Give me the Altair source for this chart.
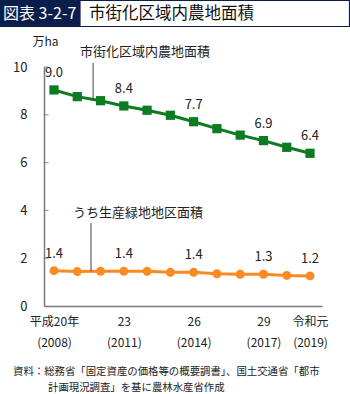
import altair as alt
import pandas as pd

years = list(range(2008, 2020))
urban_farmland = [9.04, 8.76, 8.59, 8.37, 8.19, 7.98, 7.71, 7.42, 7.15, 6.92, 6.64, 6.39]
green_farmland = [1.48, 1.44, 1.45, 1.45, 1.45, 1.41, 1.41, 1.35, 1.33, 1.33, 1.28, 1.26]
series_names = ["市街化区域内農地面積", "うち生産緑地地区面積"]

label_years = [2008, 2011, 2014, 2017, 2019]
urban_labels = ["9.0", "8.4", "7.7", "6.9", "6.4"]
green_labels = ["1.4", "1.4", "1.4", "1.3", "1.2"]

tick_years = [2008, 2011, 2014, 2017, 2019]
tick_line1 = ["平成20年", "23", "26", "29", "令和元"]
tick_line2 = ["(2008)", "(2011)", "(2014)", "(2017)", "(2019)"]
y_ticks = [0, 2, 4, 6, 8, 10]

title_tag = "図表 3-2-7"
title_text = "市街化区域内農地面積"
note_line1 = "資料：総務省「固定資産の価格等の概要調書」、国土交通省「都市"
note_line2 = "計画現況調査」を基に農林水産省作成"
y_unit = "万ha"

FONT = "Noto Sans CJK JP"
GREEN = "#0e7a22"
ORANGE = "#fa8a22"
AXIS_GRAY = "#7a7a7a"

df = pd.DataFrame({
    "year": years * 2,
    "value": urban_farmland + green_farmland,
    "series": [series_names[0]] * len(years) + [series_names[1]] * len(years),
})
lab_df = pd.DataFrame({
    "year": label_years * 2,
    "value": [urban_farmland[years.index(y)] for y in label_years]
    + [green_farmland[years.index(y)] for y in label_years],
    "text": urban_labels + green_labels,
    "series": [series_names[0]] * 5 + [series_names[1]] * 5,
    "dx": [4, 0, 0, 0, 0, 3, 0, 0, 0, 0],
})

expr = ""
for y, a, b in zip(tick_years, tick_line1, tick_line2):
    expr += f"datum.value == {y} ? ['{a}', '{b}'] : "
expr += "''"

x_scale = alt.Scale(domain=[2007.57, 2019.515], nice=False, zero=False)
y_scale = alt.Scale(domain=[0, 10], nice=False)

x_enc = alt.X("year:Q", scale=x_scale, axis=alt.Axis(
    values=tick_years, labelExpr=expr, ticks=False, grid=False, title=None,
    domainColor=AXIS_GRAY, domainWidth=1.5, labelFont=FONT, labelFontSize=12,
    labelColor="#222", labelPadding=10, labelLineHeight=21, labelBaseline="top"))
y_enc = alt.Y("value:Q", scale=y_scale, axis=alt.Axis(
    values=y_ticks, ticks=False, grid=False, title=y_unit, titleAngle=0,
    titleAlign="left", titleX=-12, titleY=-19, titleFont=FONT, titleFontSize=12,
    titleFontWeight="normal", titleColor="#222",
    domainColor=AXIS_GRAY, domainWidth=1.5, labelFont=FONT, labelFontSize=13,
    labelColor="#222", labelPadding=17))

color_scale = alt.Scale(domain=series_names, range=[GREEN, ORANGE])

lines = alt.Chart(df).mark_line(strokeWidth=3).encode(
    x=x_enc, y=y_enc,
    color=alt.Color("series:N", scale=color_scale, legend=None),
    detail="series:N")

squares = alt.Chart(df[df.series == series_names[0]]).mark_point(
    shape="square", filled=True, size=85, opacity=1).encode(
    x="year:Q", y="value:Q", color=alt.value(GREEN))
circles = alt.Chart(df[df.series == series_names[1]]).mark_point(
    shape="circle", filled=True, size=80, opacity=1).encode(
    x="year:Q", y="value:Q", color=alt.value(ORANGE))

labels = alt.Chart(lab_df).mark_text(
    font=FONT, fontSize=13, dy=-17, color="#222", baseline="middle").encode(
    x="year:Q", y="value:Q", text="text:N", xOffset=alt.XOffset("dx:Q", scale=None))

yticks = alt.Chart(pd.DataFrame({"v": y_ticks[1:]})).mark_tick(
    orient="horizontal", thickness=1.2, color=AXIS_GRAY).encode(
    y=alt.Y("v:Q", scale=y_scale), x=alt.value(2), size=alt.value(5))

# series annotations with leader lines
ann = pd.DataFrame({
    "text": series_names,
    "tx": [2009.12, 2008.82],
    "ty": [10.63, 3.89],
    "lx": [2009.68, 2009.59],
    "ly1": [10.17, 3.47],
    "ly2": [8.65, 1.45],
})
ann_text = alt.Chart(ann).mark_text(
    font=FONT, fontSize=13, align="left", baseline="middle", color="#222").encode(
    x="tx:Q", y="ty:Q", text="text:N")
ann_rule = alt.Chart(ann).mark_rule(color="#444", strokeWidth=1).encode(
    x="lx:Q", y="ly1:Q", y2="ly2:Q")

# title bar and source note (decoration)
title_bg = alt.Chart(pd.DataFrame({"a": [0]})).mark_rect(color="#0b1d4a").encode(
    x=alt.value(-44), x2=alt.value(36), y=alt.value(-67), y2=alt.value(-40))
title_box = alt.Chart(pd.DataFrame({"a": [0]})).mark_rect(
    fill="white", stroke="#0b1d4a", strokeWidth=1.2).encode(
    x=alt.value(36), x2=alt.value(305.5), y=alt.value(-66.5), y2=alt.value(-40.5))
title_tag_t = alt.Chart(pd.DataFrame({"t": [title_tag]})).mark_text(
    font=FONT, fontSize=16, color="white", align="left", baseline="middle").encode(
    x=alt.value(-41), y=alt.value(-53), text="t:N")
title_text_t = alt.Chart(pd.DataFrame({"t": [title_text]})).mark_text(
    font=FONT, fontSize=16.5, color="#111", align="left", baseline="middle").encode(
    x=alt.value(45), y=alt.value(-53), text="t:N")
note1 = alt.Chart(pd.DataFrame({"t": [note_line1]})).mark_text(
    font=FONT, fontSize=10.4, color="#222", align="left", baseline="middle").encode(
    x=alt.value(-31), y=alt.value(305), text="t:N")
note2 = alt.Chart(pd.DataFrame({"t": [note_line2]})).mark_text(
    font=FONT, fontSize=10.4, color="#222", align="left", baseline="middle").encode(
    x=alt.value(4), y=alt.value(321), text="t:N")

chart = alt.layer(
    title_bg, title_box, title_tag_t, title_text_t,
    lines, squares, circles, labels, yticks, ann_rule, ann_text, note1, note2,
).properties(
    width=278, height=239,
    autosize=alt.AutoSizeParams(type="none"),
    padding={"left": 44, "top": 67, "right": 28, "bottom": 88},
    background="white",
).configure_view(stroke=None)

chart.save("out.html", embed_options={"renderer": "svg", "actions": False})
